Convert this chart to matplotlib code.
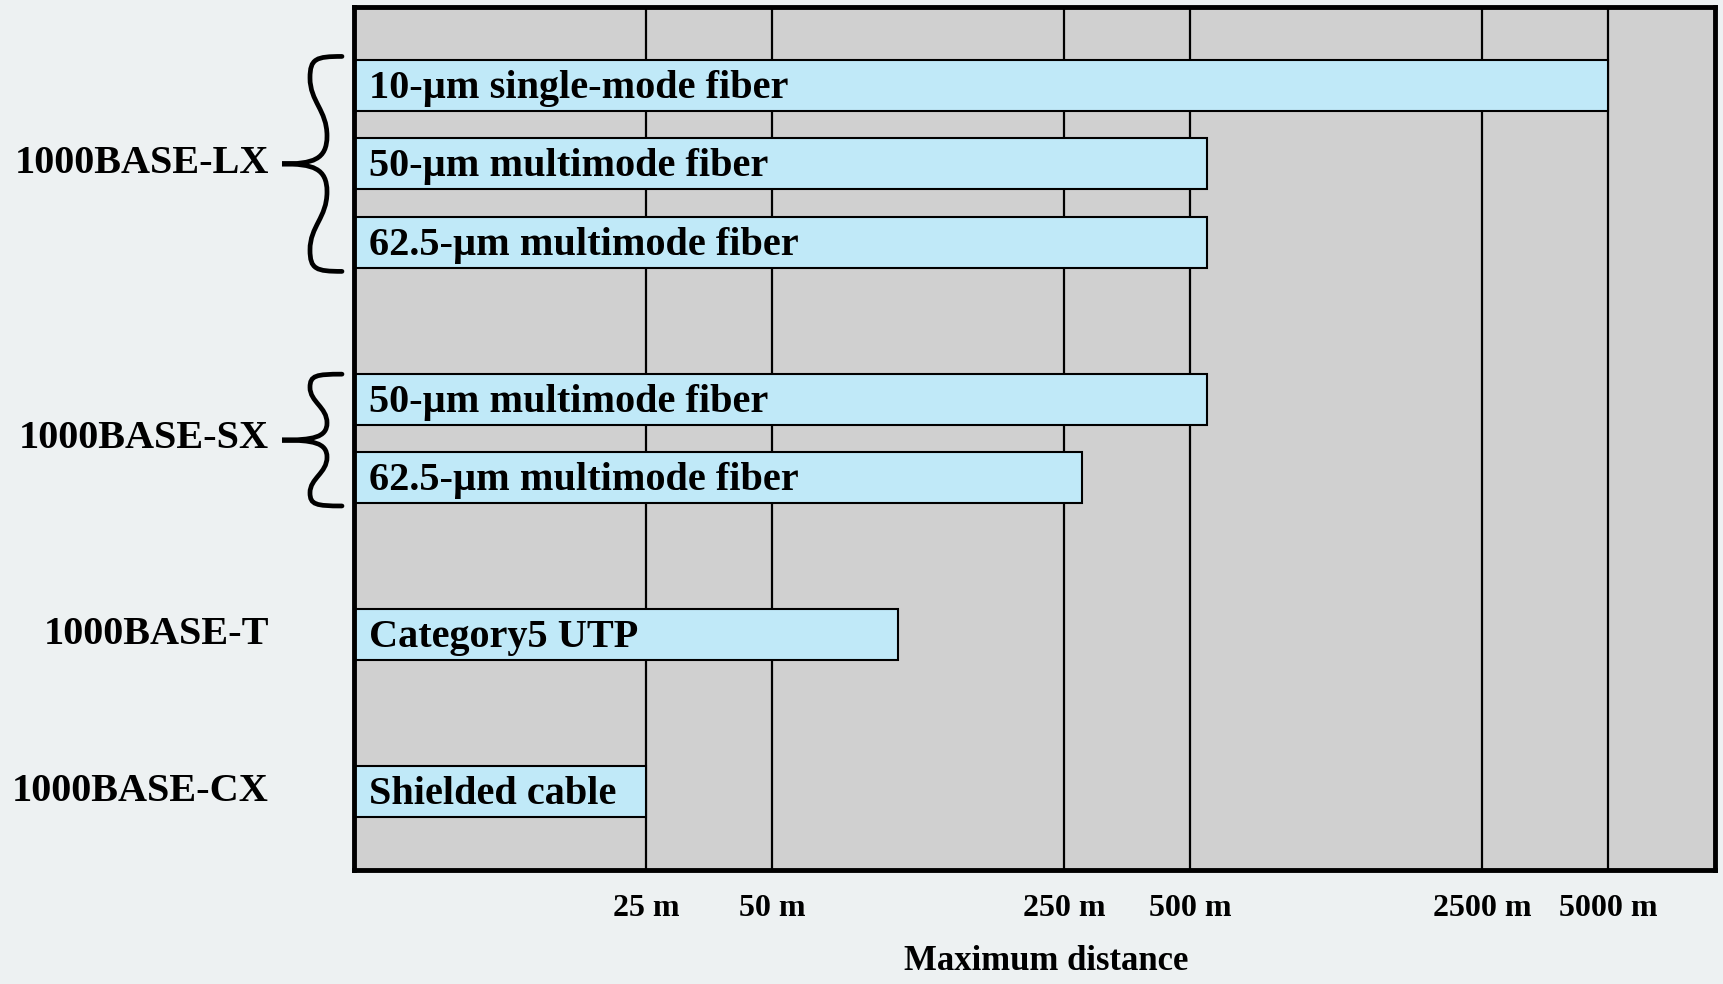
import matplotlib
matplotlib.use("Agg")
import matplotlib.pyplot as plt
from matplotlib.path import Path
from matplotlib.patches import PathPatch

plt.rcParams['font.family'] = ['Liberation Serif', 'DejaVu Serif']
plt.rcParams['font.weight'] = 'bold'

# media, their row on the chart and the maximum distance (m)
media = ['10-µm single-mode fiber', '50-µm multimode fiber', '62.5-µm multimode fiber',
         '50-µm multimode fiber', '62.5-µm multimode fiber',
         'Category5 UTP', 'Shielded cable']
rows = [1, 2, 3, 5, 6, 8, 10]
distance = [5000, 550, 550, 550, 275, 100, 25]

standards = ['1000BASE-LX', '1000BASE-SX', '1000BASE-T', '1000BASE-CX']
standard_rows = [2, 5.5, 8, 10]

ticks = [25, 50, 250, 500, 2500, 5000]
tick_labels = ['25 m', '50 m', '250 m', '500 m', '2500 m', '5000 m']

x_min, x_max = 5, 9000

fig = plt.figure(figsize=(17.23, 9.84), dpi=100, facecolor='#edf1f2')
ax = fig.add_axes([354 / 1723, 1 - 870 / 984, 1361 / 1723, 863 / 984])
ax.set_facecolor('#d0d0d0')
ax.set_xscale('log')
ax.set_xlim(x_min, x_max)
ax.set_ylim(11, 0)

for t in ticks:
    ax.axvline(t, color='black', lw=1.6, zorder=1)

ax.barh(rows, [d - x_min for d in distance], left=x_min, height=0.65,
        color='#c0e9f8', edgecolor='black', lw=1.5, zorder=2)
for r, m in zip(rows, media):
    ax.annotate(m, xy=(x_min, r), xytext=(11, -2.2), textcoords='offset points',
                va='center', ha='left', fontsize=29, fontweight='bold', zorder=3)

ax.set_xticks(ticks)
ax.set_xticklabels(tick_labels, fontsize=23, fontweight='bold')
ax.xaxis.set_minor_locator(plt.NullLocator())
ax.tick_params(axis='x', length=0, pad=17)
ax.set_yticks([])
for s in ax.spines.values():
    s.set_linewidth(3.5)
    s.set_zorder(5)

trans = ax.get_yaxis_transform()
px = 1 / 1361.0

for s, r in zip(standards, standard_rows):
    ax.text(-85 * px, r, s, transform=trans, ha='right', va='center',
            fontsize=29, fontweight='bold')


def brace(y_mid, half):
    # curly brace opening to the right, in pixel offsets from the axes' left edge
    tip, bow, stem, point = -12, -44, -27, -72
    def y(t, sign):
        return y_mid + sign * half * (1 - t)
    verts, codes = [], []
    for sign in (-1, 1):
        pts = [(tip, 0.0),
               (bow + 6, 0.0), (bow, 0.02), (bow, 0.2),
               (bow, 0.42), (stem, 0.5), (stem, 0.74),
               (stem, 0.96), (stem - 14, 1.0), (point, 1.0)]
        if sign == 1:
            pts = pts[::-1]
        for i, (xx, tt) in enumerate(pts):
            verts.append((xx * px, y(tt, sign)))
            if sign == -1:
                codes.append(Path.MOVETO if i == 0 else Path.CURVE4)
            elif i > 0:
                codes.append(Path.CURVE4)
        if sign == 1:
            verts.pop(len(verts) - len(pts))
    path = Path(verts, codes)
    ax.add_patch(PathPatch(path, transform=trans, fill=False, lw=3.4,
                           edgecolor='black', clip_on=False, capstyle='round'))


brace(2, 1.37)
brace(5.52, 0.84)

fig.text(1046 / 1723, 1 - 962 / 984, 'Maximum distance', ha='center', va='center',
         fontsize=25, fontweight='bold')

fig.savefig('out.png', dpi=100, facecolor=fig.get_facecolor())
